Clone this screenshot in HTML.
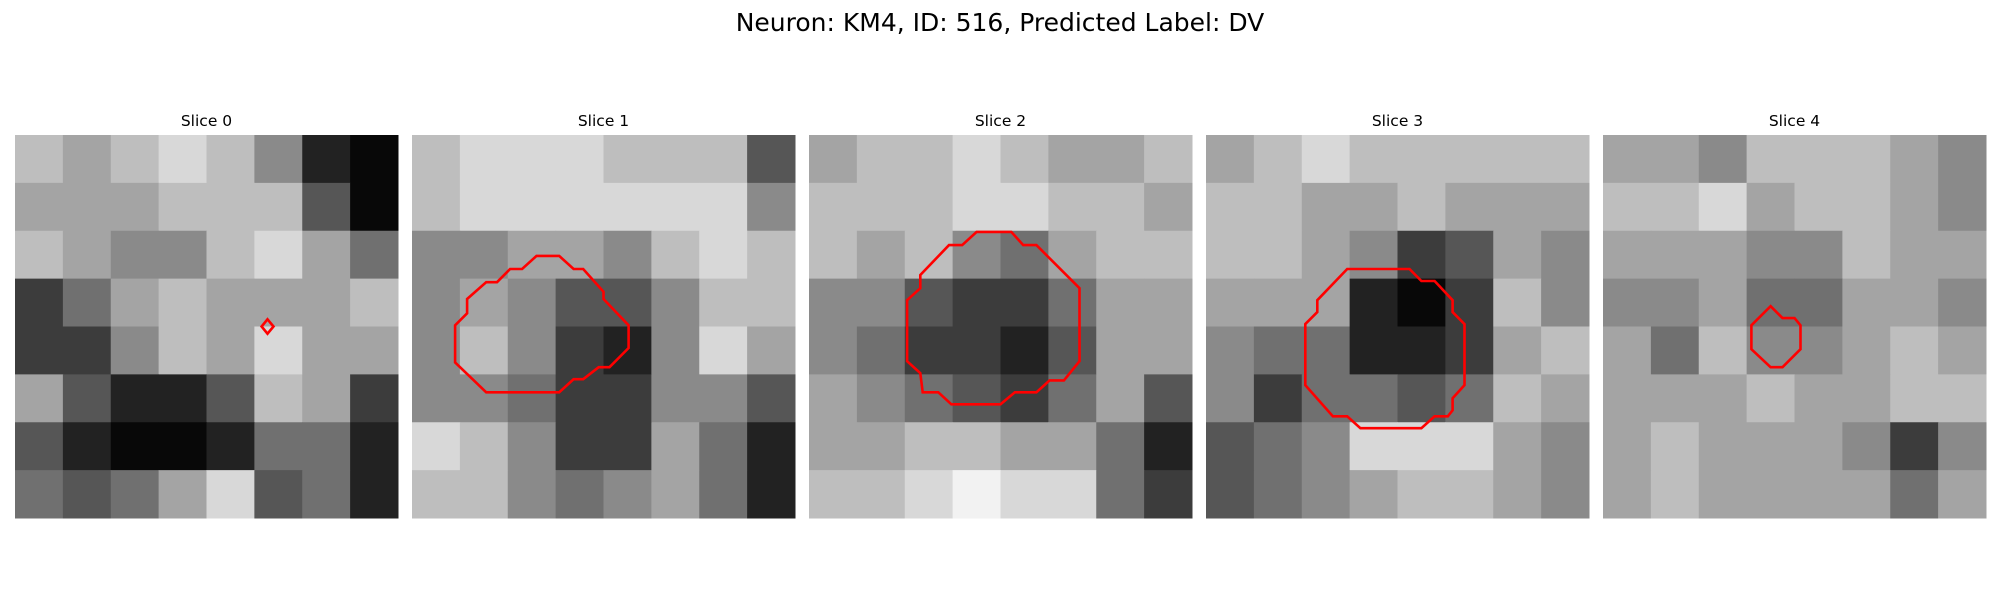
<!DOCTYPE html>
<html><head><meta charset="utf-8"><style>
body{margin:0;background:#fff;}
svg text{font-family:"DejaVu Sans","Liberation Sans",sans-serif;}
</style></head><body>
<svg id="fig" width="2000" height="600" xmlns="http://www.w3.org/2000/svg">
<rect width="2000" height="600" fill="#fff"/>
<text x="1000" y="31" font-size="25" text-anchor="middle">Neuron: KM4, ID: 516, Predicted Label: DV</text>
</svg>
<script>
const sliceTitles = ["Slice 0","Slice 1","Slice 2","Slice 3","Slice 4"];
const slice0 = [[7,6,7,8,7,5,1,0],[6,6,6,7,7,7,3,0],[7,6,5,5,7,8,6,4],[2,4,6,7,6,6,6,7],[2,2,5,7,6,8,6,6],[6,3,1,1,3,7,6,2],[3,1,0,0,1,4,4,1],[4,3,4,6,8,3,4,1]];
const slice1 = [[7,8,8,8,7,7,7,3],[7,8,8,8,8,8,8,5],[5,5,6,6,5,7,8,7],[5,6,5,3,3,5,7,7],[5,7,5,2,1,5,8,6],[5,5,4,2,2,5,5,3],[8,7,5,2,2,6,4,1],[7,7,5,4,5,6,4,1]];
const slice2 = [[6,7,7,8,7,6,6,7],[7,7,7,8,8,7,7,6],[7,6,7,5,4,6,7,7],[5,5,3,2,2,4,6,6],[5,4,2,2,1,3,6,6],[6,5,4,3,2,4,6,3],[6,6,7,7,6,6,4,1],[7,7,8,9,8,8,4,2]];
const slice3 = [[6,7,8,7,7,7,7,7],[7,7,6,6,7,6,6,6],[7,7,6,5,2,3,6,5],[6,6,6,1,0,2,7,5],[5,4,4,1,1,2,6,7],[5,2,4,4,3,4,7,6],[3,4,5,8,8,8,6,5],[3,4,5,6,7,7,6,5]];
const slice4 = [[6,6,5,7,7,7,6,5],[7,7,8,6,7,7,6,5],[6,6,6,5,5,7,6,6],[5,5,6,4,4,6,6,5],[6,4,7,5,5,6,7,6],[6,6,6,7,6,6,7,7],[6,7,6,6,6,5,2,5],[6,7,6,6,6,6,4,6]];
const slices = [slice0,slice1,slice2,slice3,slice4];
const contour0 = [[21.1,15.4],[21.6,16.0],[21.1,16.6],[20.6,16.0]];
const contour1 = [[10.4,10.1],[12.3,10.1],[13.5,11.2],[14.3,11.2],[16.0,13.1],[16.0,13.7],[18.1,15.9],[18.1,17.8],[16.5,19.4],[15.6,19.4],[14.3,20.4],[13.5,20.4],[12.3,21.5],[6.2,21.5],[3.6,19.0],[3.6,15.9],[4.6,14.9],[4.6,13.7],[6.2,12.3],[7.1,12.3],[8.2,11.2],[9.2,11.2]];
const contour2 = [[14.0,8.1],[16.9,8.1],[17.9,9.2],[19.0,9.2],[22.6,12.8],[22.6,18.9],[21.3,20.5],[20.1,20.5],[19.0,21.5],[17.2,21.5],[16.0,22.5],[11.9,22.5],[10.8,21.5],[9.5,21.5],[9.3,19.9],[8.2,18.9],[8.2,13.8],[9.3,12.8],[9.3,11.7],[11.7,9.2],[12.8,9.2]];
const contour3 = [[11.8,11.2],[17.0,11.2],[18.0,12.2],[19.1,12.2],[20.6,13.8],[20.6,14.8],[21.6,15.8],[21.6,20.9],[20.6,22.0],[20.6,23.0],[20.2,23.5],[19.1,23.5],[18.0,24.5],[12.9,24.5],[11.8,23.5],[10.6,23.5],[8.3,20.9],[8.3,15.8],[9.3,14.8],[9.3,13.8]];
const contour4 = [[14.0,14.3],[15.0,15.3],[16.0,15.3],[16.5,15.9],[16.5,17.9],[15.0,19.4],[14.0,19.4],[12.4,17.9],[12.4,15.9]];
const contours = [contour0,contour1,contour2,contour3,contour4];

const NS = "http://www.w3.org/2000/svg";
const svg = document.getElementById('fig');
const panelLeft = i => 15 + i*397;
const panelTop = 135, panelSize = 383;
const sx = (i, px) => panelLeft(i) + px/32*panelSize;
const sy = py => panelTop + py/32*panelSize;
slices.forEach((grid, i) => {
  const g = document.createElementNS(NS,'g');
  
  
  svg.appendChild(g);
  const t = document.createElementNS(NS,'text');
  
  
  t.setAttribute('x', panelLeft(i) + panelSize/2);
  t.setAttribute('y', 126);
  t.setAttribute('font-size', '15.5');
  t.setAttribute('text-anchor', 'middle');
  t.textContent = sliceTitles[i];
  g.appendChild(t);
  const n = grid.length, cell = 32/n;
  grid.forEach((row, r) => row.forEach((v, c) => {
    const rc = document.createElementNS(NS,'rect');
    
    
    const x0 = sx(i, c*cell), y0 = sy(r*cell);
    rc.setAttribute('x', x0);
    rc.setAttribute('y', y0);
    rc.setAttribute('width', sx(i,(c+1)*cell) - x0 + 0.5);
    rc.setAttribute('height', sy((r+1)*cell) - y0 + 0.5);
    const gv = Math.min(255, Math.round(v*26 + 8));
    rc.setAttribute('fill', `rgb(${gv},${gv},${gv})`);
    g.appendChild(rc);
  }));
  const p = document.createElementNS(NS,'polygon');
  
  
  p.setAttribute('points', contours[i].map(q => sx(i,q[0]).toFixed(1)+','+sy(q[1]).toFixed(1)).join(' '));
  p.setAttribute('fill', 'none');
  p.setAttribute('stroke', '#ff0000');
  p.setAttribute('stroke-width', '2.6');
  g.appendChild(p);
});
</script>
</body></html>
